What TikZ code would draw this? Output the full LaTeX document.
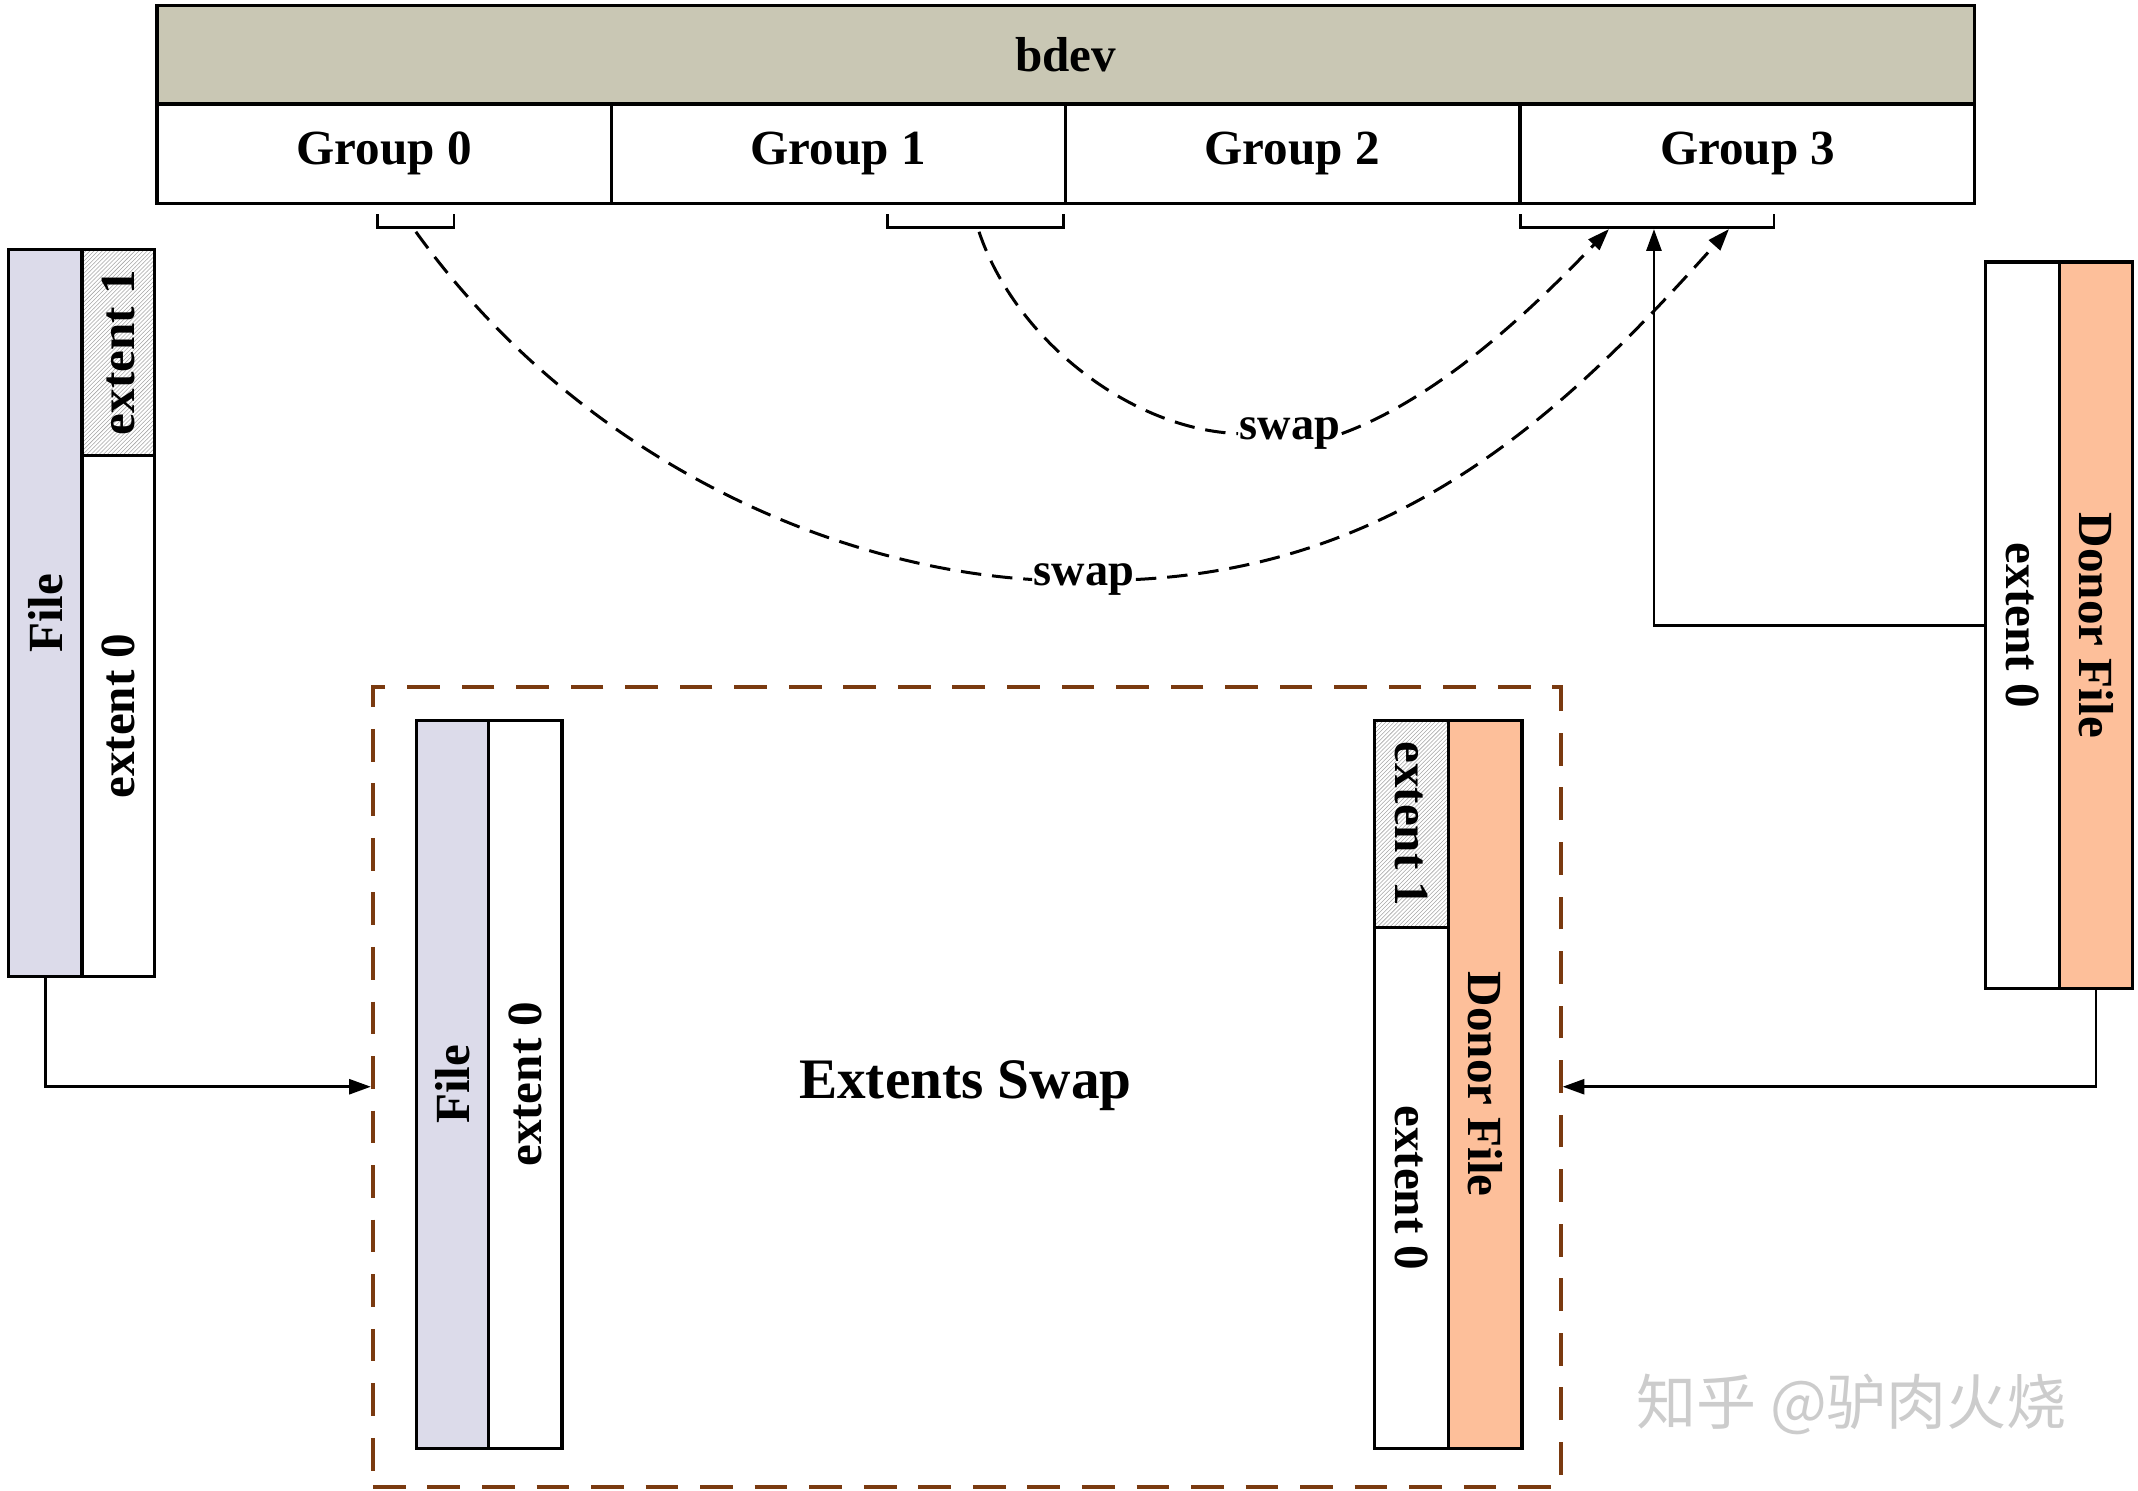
\documentclass[tikz,border=0pt]{standalone}
\usepackage{fontspec}
\setmainfont{Liberation Serif}
\newfontfamily\cjk{Noto Sans CJK SC}
\usetikzlibrary{arrows.meta,patterns}
\definecolor{bdevc}{HTML}{C9C7B4}
\definecolor{filec}{HTML}{DCDBEA}
\definecolor{donorc}{HTML}{FDBF9A}
\definecolor{brownc}{HTML}{7A3A10}
\begin{document}
\begin{tikzpicture}[x=1pt,y=-1pt,
 bx/.style={draw,line width=2.4pt},
 lab/.style={font=\fontsize{36}{42}\selectfont\bfseries},
 hatch/.style={pattern=north east lines,pattern color=gray!70},
 arr/.style={line width=2pt,-{Triangle[length=16pt,width=11pt]}},
 dsh/.style={line width=2.2pt,dash pattern=on 15pt off 8pt},
 sw/.style={dsh,-{Triangle[length=16pt,width=11pt]}}]
\useasboundingbox (0,0) rectangle (1568,1093);
% bdev
\node[bx,fill=bdevc,minimum width=1333,minimum height=72,anchor=north west,lab] (bdev) at (114,3) {bdev};
\foreach \i/\x in {0/114,1/447,2/780,3/1114}
  \node[bx,minimum width=333,minimum height=73,anchor=north west,lab] (g\i) at (\x,75) {Group \i};
% brackets
\draw[line width=2pt] (277,157)--(277,167)--(333,167)--(333,157);
\draw[line width=2pt] (651,157)--(651,167)--(780,167)--(780,157);
\draw[line width=2pt] (1115,157)--(1115,167)--(1301,167)--(1301,157);
\coordinate (b0) at (305,170); \coordinate (b1) at (718,170);
\coordinate (t1) at (1180,168); \coordinate (t2) at (1268,168); \coordinate (tm) at (1213,168);
% left file
\node[bx,fill=filec,minimum width=54,minimum height=533,anchor=north west] (lf) at (5,182) {};
\node[lab,rotate=90] at (lf.center) {File};
\node[bx,hatch,minimum width=53,minimum height=151,anchor=north west] (le1) at (59,182) {};
\node[lab,rotate=90] at (le1.center) {extent 1};
\node[bx,fill=white,minimum width=53,minimum height=382,anchor=north west] (le0) at (59,333) {};
\node[lab,rotate=90] at (le0.center) {extent 0};
% right donor
\node[bx,fill=white,minimum width=54,minimum height=533,anchor=north west] (re0) at (1455,191) {};
\node[lab,rotate=-90] at (re0.center) {extent 0};
\node[bx,fill=donorc,minimum width=54,minimum height=533,anchor=north west] (rd) at (1509,191) {};
\node[lab,rotate=-90] at (rd.center) {Donor File};
% dashed box
\node[draw=brownc,line width=3pt,dash pattern=on 24pt off 16pt,minimum width=871,minimum height=587,anchor=north west] (box) at (272,502) {};
\node[font=\fontsize{42}{48}\selectfont\bfseries] at (708,796) {Extents Swap};
% inner file
\node[bx,fill=filec,minimum width=53,minimum height=534,anchor=north west] (if) at (304,527) {};
\node[lab,rotate=90] at (if.center) {File};
\node[bx,fill=white,minimum width=54,minimum height=534,anchor=north west] (ie0) at (357,527) {};
\node[lab,rotate=90] at (ie0.center) {extent 0};
% inner donor
\node[bx,hatch,minimum width=54,minimum height=152,anchor=north west] (ide1) at (1007,527) {};
\node[lab,rotate=-90] at (ide1.center) {extent 1};
\node[bx,fill=white,minimum width=54,minimum height=382,anchor=north west] (ide0) at (1007,679) {};
\node[lab,rotate=-90] at (ide0.center) {extent 0};
\node[bx,fill=donorc,minimum width=54,minimum height=534,anchor=north west] (idf) at (1061,527) {};
\node[lab,rotate=-90] at (idf.center) {Donor File};
% arrows
\draw[arr] (lf.south) |- (box.west);
\draw[arr] (rd.south) |- (box.east);
\draw[arr] (re0.west) -| (tm);
% swap curves
\node[font=\fontsize{34}{40}\selectfont\bfseries,fill=white,inner sep=1pt] (s1) at (946,318) {swap};
\node[font=\fontsize{34}{40}\selectfont\bfseries,fill=white,inner sep=1pt] (s0) at (795,425) {swap};
\draw[dsh] (b1) .. controls (745,250) and (830,315) .. (s1.west);
\draw[sw] (s1.east) .. controls (1060,290) and (1130,220) .. (t1);
\draw[dsh] (b0) .. controls (420,330) and (600,415) .. (s0.west);
\draw[sw] (s0.east) .. controls (1030,415) and (1150,300) .. (t2);
\node[font=\cjk\fontsize{44}{50}\selectfont,text=gray!40] at (1358,1030) {知乎 @驴肉火烧};
\end{tikzpicture}
\end{document}
